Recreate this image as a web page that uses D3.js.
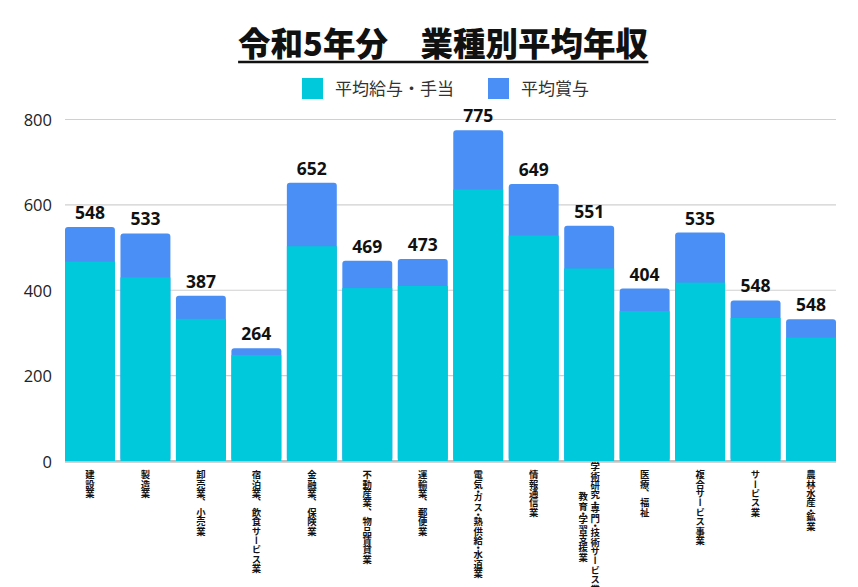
<!DOCTYPE html>
<html><head><meta charset="utf-8">
<script src="https://cdn.jsdelivr.net/npm/d3@7"></script>
<style>
html,body{margin:0;padding:0;background:#fff;}
svg{display:block;}
.vlab{writing-mode:vertical-rl;}
.dot{font-feature-settings:"vhal";}
</style></head>
<body>
<svg id="chart" width="858" height="587"></svg>
<script>
const categories = ["建設業","製造業","卸売業、小売業","宿泊業、飲食サービス業","金融業、保険業","不動産業、物品賃貸業","運輸業、郵便業","電気・ガス・熱供給・水道業","情報通信業","学術研究・専門・技術サービス業\n教育・学習支援業","医療、福祉","複合サービス事業","サービス業","農林水産・鉱業"];
const baseSalary = [467, 430, 333, 248, 503, 405, 410, 636, 528, 451, 351, 418, 335, 289];
const bonus      = [ 81, 103,  54,  16, 149,  64,  63, 139, 121, 100,  53, 117,  41,  43];
const totalLabels = ["548","533","387","264","652","469","473","775","649","551","404","535","548","548"];
const seriesNames = ["平均給与・手当","平均賞与"];
const yTicks = [0,200,400,600,800];
const titleText = "令和5年分　業種別平均年収";

const colors = ["#00C9DB","#4A8FF5"];
const svg = d3.select("#chart");
const jp = "'Noto Sans CJK JP','Noto Sans',sans-serif";

const x = d3.scaleBand().domain(categories).range([65, 836]).paddingInner(0.1).paddingOuter(0);
const y = d3.scaleLinear().domain([0, 800]).range([461, 119.5]);

// gridlines
svg.append("g").selectAll("line").data(yTicks).join("line")
  .attr("x1", 65).attr("x2", 836)
  .attr("y1", d => y(d)).attr("y2", d => y(d))
  .attr("stroke", d => d === 0 ? "#bdbdbd" : "#d0d0d0")
  .attr("stroke-width", d => d === 0 ? 2 : 1.2);

// y tick labels
svg.append("g").selectAll("text").data(yTicks).join("text")
  .attr("x", 52).attr("y", d => y(d))
  .attr("text-anchor", "end").attr("dominant-baseline", "central")
  .attr("font-family", "'Open Sans','Noto Sans',sans-serif").attr("font-size", 16.5)
  .attr("fill", "#222").text(d => d);

const data = categories.map((c, i) => ({c, base: baseSalary[i], bonus: bonus[i], label: totalLabels[i]}));

// bonus (top) segment, drawn full height with rounded corners, base covers bottom
svg.append("g").selectAll("rect").data(data).join("rect")
  .attr("x", d => x(d.c)).attr("width", x.bandwidth())
  .attr("y", d => y(d.base + d.bonus))
  .attr("height", d => y(0) - y(d.base + d.bonus))
  .attr("rx", 3).attr("fill", colors[1]);
svg.append("g").selectAll("rect").data(data).join("rect")
  .attr("x", d => x(d.c)).attr("width", x.bandwidth())
  .attr("y", d => y(d.base))
  .attr("height", d => y(0) - y(d.base))
  .attr("fill", colors[0]);

// baseline over bars
svg.append("line").attr("x1", 65).attr("x2", 836).attr("y1", y(0)+1).attr("y2", y(0)+1)
  .attr("stroke", "#c4c4c4").attr("stroke-width", 1.5);

// value labels
svg.append("g").selectAll("text").data(data).join("text")
  .attr("x", d => x(d.c) + x.bandwidth()/2)
  .attr("y", d => y(d.base + d.bonus) - 8)
  .attr("text-anchor", "middle")
  .attr("font-family", "'Open Sans','Noto Sans',sans-serif").attr("font-weight", "bold")
  .attr("font-size", 17.5).attr("fill", "#111").text(d => d.label);

// x labels (vertical), middle dots half-width as in the reference
const xl = svg.append("g");
function vtext(str, px, py) {
  const t = xl.append("text").attr("class", "vlab").attr("x", px).attr("y", py)
    .attr("font-family", jp).attr("font-weight", "bold").attr("font-size", 9.4).attr("fill", "#111");
  str.split(/(・)/).filter(s => s.length).forEach(part => {
    const ts = t.append("tspan").text(part);
    if (part === "・") ts.attr("class", "dot");
  });
}
data.forEach(d => {
  const lines = d.c.split("\n");
  const cx = x(d.c) + x.bandwidth()/2;
  if (lines.length === 1) {
    vtext(lines[0], cx, 470);
  } else {
    vtext(lines[0], cx + 6, 462);
    vtext(lines[1], cx - 6, 492);
  }
});

// title
const title = svg.append("text").attr("x", 443).attr("y", 56)
  .attr("text-anchor", "middle").attr("font-family", jp).attr("font-weight", 900)
  .attr("font-size", 32.5).attr("fill", "#111").text(titleText);
const bb = title.node().getBBox();
svg.append("line").attr("x1", bb.x).attr("x2", bb.x + bb.width)
  .attr("y1", 62).attr("y2", 62).attr("stroke", "#111").attr("stroke-width", 2.5);

// legend
const legendX = [302, 488];
seriesNames.forEach((n, i) => {
  svg.append("rect").attr("x", legendX[i]).attr("y", 78).attr("width", 21).attr("height", 21)
    .attr("fill", colors[i]);
  svg.append("text").attr("x", legendX[i] + 33).attr("y", 95)
    .attr("font-family", jp).attr("font-size", 17).attr("fill", "#333").text(n);
});
</script>
</body></html>
